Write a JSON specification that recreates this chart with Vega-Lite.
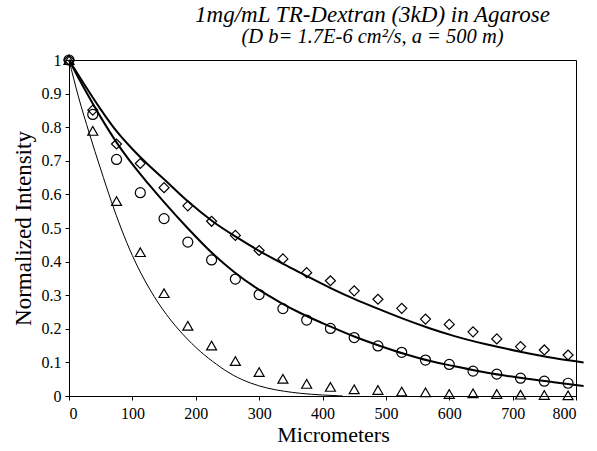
{
  "$schema": "https://vega.github.io/schema/vega-lite/v6.json",
  "width": 507,
  "height": 336,
  "padding": {"left": 12, "top": 3, "right": 5, "bottom": 2},
  "title": {
    "text": "1mg/mL TR-Dextran (3kD) in Agarose",
    "subtitle": "(D b= 1.7E-6 cm²/s, a = 500 m)",
    "font": "Liberation Serif",
    "fontStyle": "italic",
    "fontWeight": "normal",
    "fontSize": 23,
    "color": "black",
    "subtitleFont": "Liberation Serif",
    "subtitleFontStyle": "italic",
    "subtitleFontSize": 20.5,
    "subtitleColor": "black",
    "subtitlePadding": 0,
    "anchor": "middle",
    "dx": 50,
    "offset": 5
  },
  "config": {
    "view": {"stroke": "black", "strokeWidth": 1}
  },
  "datasets": {
    "points": [
      {"x": 0, "y": 1, "series": "diamond"}, {"x": 0, "y": 1, "series": "circle"}, {"x": 0, "y": 1, "series": "triangle"},
      {"x": 37.5, "y": 0.851, "series": "diamond"}, {"x": 37.5, "y": 0.838, "series": "circle"}, {"x": 37.5, "y": 0.789, "series": "triangle"},
      {"x": 75, "y": 0.75, "series": "diamond"}, {"x": 75, "y": 0.704, "series": "circle"}, {"x": 75, "y": 0.58, "series": "triangle"},
      {"x": 112.5, "y": 0.692, "series": "diamond"}, {"x": 112.5, "y": 0.605, "series": "circle"}, {"x": 112.5, "y": 0.428, "series": "triangle"},
      {"x": 150, "y": 0.62, "series": "diamond"}, {"x": 150, "y": 0.528, "series": "circle"}, {"x": 150, "y": 0.306, "series": "triangle"},
      {"x": 187.5, "y": 0.566, "series": "diamond"}, {"x": 187.5, "y": 0.458, "series": "circle"}, {"x": 187.5, "y": 0.209, "series": "triangle"},
      {"x": 225, "y": 0.52, "series": "diamond"}, {"x": 225, "y": 0.405, "series": "circle"}, {"x": 225, "y": 0.15, "series": "triangle"},
      {"x": 262.5, "y": 0.478, "series": "diamond"}, {"x": 262.5, "y": 0.348, "series": "circle"}, {"x": 262.5, "y": 0.104, "series": "triangle"},
      {"x": 300, "y": 0.433, "series": "diamond"}, {"x": 300, "y": 0.302, "series": "circle"}, {"x": 300, "y": 0.071, "series": "triangle"},
      {"x": 337.5, "y": 0.408, "series": "diamond"}, {"x": 337.5, "y": 0.26, "series": "circle"}, {"x": 337.5, "y": 0.051, "series": "triangle"},
      {"x": 375, "y": 0.367, "series": "diamond"}, {"x": 375, "y": 0.226, "series": "circle"}, {"x": 375, "y": 0.036, "series": "triangle"},
      {"x": 412.5, "y": 0.343, "series": "diamond"}, {"x": 412.5, "y": 0.201, "series": "circle"}, {"x": 412.5, "y": 0.027, "series": "triangle"},
      {"x": 450, "y": 0.313, "series": "diamond"}, {"x": 450, "y": 0.174, "series": "circle"}, {"x": 450, "y": 0.02, "series": "triangle"},
      {"x": 487.5, "y": 0.288, "series": "diamond"}, {"x": 487.5, "y": 0.149, "series": "circle"}, {"x": 487.5, "y": 0.018, "series": "triangle"},
      {"x": 525, "y": 0.261, "series": "diamond"}, {"x": 525, "y": 0.13, "series": "circle"}, {"x": 525, "y": 0.013, "series": "triangle"},
      {"x": 562.5, "y": 0.229, "series": "diamond"}, {"x": 562.5, "y": 0.107, "series": "circle"}, {"x": 562.5, "y": 0.011, "series": "triangle"},
      {"x": 600, "y": 0.213, "series": "diamond"}, {"x": 600, "y": 0.094, "series": "circle"}, {"x": 600, "y": 0.006, "series": "triangle"},
      {"x": 637.5, "y": 0.191, "series": "diamond"}, {"x": 637.5, "y": 0.074, "series": "circle"}, {"x": 637.5, "y": 0.008, "series": "triangle"},
      {"x": 675, "y": 0.17, "series": "diamond"}, {"x": 675, "y": 0.065, "series": "circle"}, {"x": 675, "y": 0.006, "series": "triangle"},
      {"x": 712.5, "y": 0.147, "series": "diamond"}, {"x": 712.5, "y": 0.053, "series": "circle"}, {"x": 712.5, "y": 0.004, "series": "triangle"},
      {"x": 750, "y": 0.137, "series": "diamond"}, {"x": 750, "y": 0.044, "series": "circle"}, {"x": 750, "y": 0.003, "series": "triangle"},
      {"x": 787.5, "y": 0.122, "series": "diamond"}, {"x": 787.5, "y": 0.038, "series": "circle"}, {"x": 787.5, "y": 0.002, "series": "triangle"}
    ],
    "curves": [
      {"x": 0, "y": 1, "curve": "upper"}, {"x": 25, "y": 0.925, "curve": "upper"}, {"x": 50, "y": 0.853, "curve": "upper"},
      {"x": 75, "y": 0.788, "curve": "upper"}, {"x": 100, "y": 0.735, "curve": "upper"}, {"x": 125, "y": 0.688, "curve": "upper"},
      {"x": 150, "y": 0.645, "curve": "upper"}, {"x": 187, "y": 0.58, "curve": "upper"}, {"x": 228, "y": 0.518, "curve": "upper"},
      {"x": 265, "y": 0.472, "curve": "upper"}, {"x": 302, "y": 0.43, "curve": "upper"}, {"x": 338, "y": 0.393, "curve": "upper"},
      {"x": 370, "y": 0.362, "curve": "upper"}, {"x": 412, "y": 0.322, "curve": "upper"}, {"x": 450, "y": 0.289, "curve": "upper"},
      {"x": 491, "y": 0.257, "curve": "upper"}, {"x": 530, "y": 0.228, "curve": "upper"}, {"x": 570, "y": 0.201, "curve": "upper"},
      {"x": 607, "y": 0.179, "curve": "upper"}, {"x": 660, "y": 0.153, "curve": "upper"}, {"x": 712, "y": 0.132, "curve": "upper"},
      {"x": 765, "y": 0.113, "curve": "upper"}, {"x": 812, "y": 0.1, "curve": "upper"},
      {"x": 0, "y": 1, "curve": "middle"}, {"x": 25, "y": 0.912, "curve": "middle"}, {"x": 50, "y": 0.83, "curve": "middle"},
      {"x": 75, "y": 0.755, "curve": "middle"}, {"x": 100, "y": 0.69, "curve": "middle"}, {"x": 125, "y": 0.632, "curve": "middle"},
      {"x": 150, "y": 0.577, "curve": "middle"}, {"x": 187, "y": 0.5, "curve": "middle"}, {"x": 225, "y": 0.427, "curve": "middle"},
      {"x": 260, "y": 0.37, "curve": "middle"}, {"x": 296, "y": 0.321, "curve": "middle"}, {"x": 333, "y": 0.279, "curve": "middle"},
      {"x": 365, "y": 0.247, "curve": "middle"}, {"x": 412, "y": 0.207, "curve": "middle"}, {"x": 450, "y": 0.177, "curve": "middle"},
      {"x": 491, "y": 0.149, "curve": "middle"}, {"x": 530, "y": 0.125, "curve": "middle"}, {"x": 570, "y": 0.104, "curve": "middle"},
      {"x": 607, "y": 0.089, "curve": "middle"}, {"x": 660, "y": 0.069, "curve": "middle"}, {"x": 712, "y": 0.054, "curve": "middle"},
      {"x": 765, "y": 0.041, "curve": "middle"}, {"x": 812, "y": 0.03, "curve": "middle"},
      {"x": 0, "y": 1, "curve": "lower"}, {"x": 15, "y": 0.89, "curve": "lower"}, {"x": 32, "y": 0.782, "curve": "lower"},
      {"x": 50, "y": 0.675, "curve": "lower"}, {"x": 67, "y": 0.578, "curve": "lower"}, {"x": 82, "y": 0.5, "curve": "lower"},
      {"x": 100, "y": 0.418, "curve": "lower"}, {"x": 128, "y": 0.316, "curve": "lower"}, {"x": 154, "y": 0.242, "curve": "lower"},
      {"x": 180, "y": 0.183, "curve": "lower"}, {"x": 207, "y": 0.133, "curve": "lower"}, {"x": 233, "y": 0.094, "curve": "lower"},
      {"x": 259, "y": 0.062, "curve": "lower"}, {"x": 286, "y": 0.039, "curve": "lower"}, {"x": 312, "y": 0.024, "curve": "lower"},
      {"x": 340, "y": 0.014, "curve": "lower"}, {"x": 365, "y": 0.008, "curve": "lower"}, {"x": 400, "y": 0.003, "curve": "lower"},
      {"x": 432, "y": 0, "curve": "lower"}
    ],
    "top": [{"y": 1}]
  },
  "encoding": {
    "x": {
      "field": "x", "type": "quantitative",
      "scale": {"domain": [0, 800], "nice": false},
      "axis": {
        "title": "Micrometers",
        "values": [0, 100, 200, 300, 400, 500, 600, 700, 800],
        "grid": false,
        "labelFont": "Liberation Serif",
        "labelFontSize": 16,
        "labelColor": "black",
        "labelOverlap": false,
        "labelPadding": 5,
        "titleFont": "Liberation Serif",
        "titleFontSize": 22,
        "titleFontWeight": "normal",
        "titleColor": "black",
        "titlePadding": 3,
        "titleX": 264,
        "domainColor": "black",
        "tickColor": "black",
        "tickSize": 4
      }
    },
    "y": {
      "field": "y", "type": "quantitative",
      "scale": {"domain": [0, 1], "nice": false},
      "axis": {
        "title": "Normalized Intensity",
        "values": [0, 0.1, 0.2, 0.3, 0.4, 0.5, 0.6, 0.7, 0.8, 0.9, 1],
        "labelExpr": "format(datum.value, '~g')",
        "grid": false,
        "labelFont": "Liberation Serif",
        "labelFontSize": 16,
        "labelColor": "black",
        "labelOverlap": false,
        "labelPadding": 4,
        "titleFont": "Liberation Serif",
        "titleFontSize": 23,
        "titleFontWeight": "normal",
        "titleColor": "black",
        "titlePadding": 6,
        "domainColor": "black",
        "tickColor": "black",
        "tickSize": 4
      }
    }
  },
  "layer": [
    {
      "data": {"name": "curves"},
      "transform": [{"filter": "datum.curve !== 'lower'"}],
      "mark": {"type": "line", "color": "black", "strokeWidth": 2, "clip": false, "interpolate": "monotone"},
      "encoding": {"detail": {"field": "curve"}}
    },
    {
      "data": {"name": "curves"},
      "transform": [{"filter": "datum.curve === 'lower'"}],
      "mark": {"type": "line", "color": "black", "strokeWidth": 1, "interpolate": "monotone"},
      "encoding": {}
    },
    {
      "data": {"name": "points"},
      "mark": {"type": "point", "filled": false, "color": "black", "strokeWidth": 1.2, "size": 100, "opacity": 1},
      "encoding": {
        "shape": {
          "field": "series", "type": "nominal",
          "scale": {"domain": ["diamond", "circle", "triangle"], "range": ["diamond", "circle", "triangle-up"]},
          "legend": null
        }
      }
    },
    {
      "data": {"name": "top"},
      "mark": {"type": "rule", "color": "#808080", "strokeWidth": 2},
      "encoding": {"x": {"datum": 0}, "x2": {"datum": 800}}
    }
  ]
}
